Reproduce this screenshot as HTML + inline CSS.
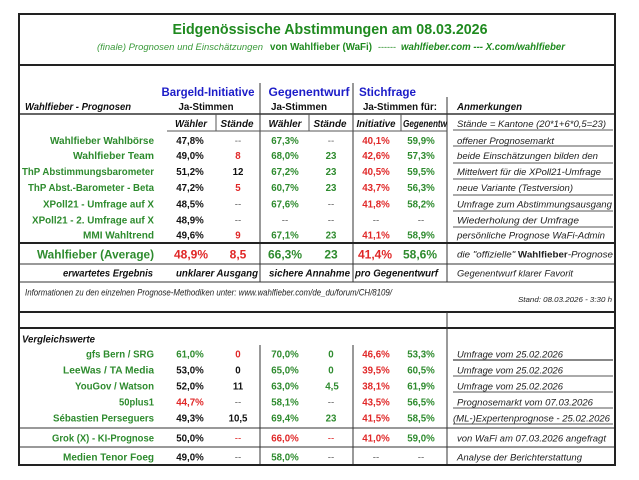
<!DOCTYPE html>
<html><head><meta charset="utf-8">
<style>
html,body{margin:0;padding:0;background:#fff;}
svg{display:block;}
text{font-family:"Liberation Sans",Arial,sans-serif;}
.lb{font-weight:bold;font-size:9.7px;fill:#2e8b2e;text-anchor:end;}
.v{font-weight:bold;font-size:9.7px;text-anchor:middle;}
.k{fill:#111;}
.g{fill:#2e8b2e;}
.r{fill:#e02828;}
.d{fill:#666;font-weight:normal;}
.an{font-style:italic;font-size:9.5px;fill:#222;}
.hb{font-weight:bold;font-style:italic;font-size:9.7px;fill:#111;}
.bl{font-weight:bold;font-size:11.5px;fill:#1c1cc8;}
.ln{stroke:#333;stroke-width:1;}
.lg{stroke:#555;stroke-width:1;}
.tk{stroke:#222;stroke-width:2;}
</style></head>
<body>
<svg width="639" height="480" viewBox="0 0 639 480" xmlns="http://www.w3.org/2000/svg">
<rect x="0" y="0" width="639" height="480" fill="#fff"/>

<!-- Title -->
<text x="330" y="34" text-anchor="middle" font-weight="bold" font-size="14.5" fill="#1f8a1f" textLength="315" lengthAdjust="spacingAndGlyphs">Eidgenössische Abstimmungen am 08.03.2026</text>
<text x="97" y="50" font-size="9.5" font-style="italic" fill="#3a9a3a" textLength="166" lengthAdjust="spacingAndGlyphs">(finale) Prognosen und Einschätzungen</text>
<text x="270" y="50" font-size="9.7" font-weight="bold" fill="#1f8a1f" textLength="102" lengthAdjust="spacingAndGlyphs">von Wahlfieber (WaFi)</text>
<text x="378" y="50" font-size="9.5" fill="#1f8a1f" textLength="18" lengthAdjust="spacingAndGlyphs">------</text>
<text x="401" y="50" font-size="9.7" font-weight="bold" font-style="italic" fill="#1f8a1f" textLength="164" lengthAdjust="spacingAndGlyphs">wahlfieber.com --- X.com/wahlfieber</text>

<!-- Lines -->
<line class="tk" x1="19" y1="65" x2="615" y2="65"/>
<line class="ln" x1="19" y1="114" x2="615" y2="114" style="stroke-width:1.5"/>
<line class="ln" x1="260" y1="83" x2="260" y2="282"/>
<line class="ln" x1="353" y1="83" x2="353" y2="282"/>
<line class="ln" x1="447" y1="97" x2="447" y2="282"/>
<line class="lg" x1="216" y1="114" x2="216" y2="131"/>
<line class="lg" x1="309" y1="114" x2="309" y2="131"/>
<line class="lg" x1="401" y1="114" x2="401" y2="131"/>
<line class="lg" x1="167" y1="131" x2="447" y2="131"/>
<!-- annotation underlines upper -->
<line class="lg" x1="453" y1="130" x2="613" y2="130"/>
<line class="lg" x1="453" y1="146" x2="613" y2="146"/>
<line class="lg" x1="453" y1="163" x2="613" y2="163"/>
<line class="lg" x1="453" y1="179" x2="613" y2="179"/>
<line class="lg" x1="453" y1="195" x2="613" y2="195"/>
<line class="lg" x1="453" y1="211" x2="613" y2="211"/>
<line class="lg" x1="453" y1="227" x2="613" y2="227"/>
<line class="tk" x1="19" y1="243" x2="615" y2="243"/>
<line class="ln" x1="19" y1="264" x2="615" y2="264"/>
<line class="ln" x1="19" y1="282" x2="615" y2="282"/>
<line class="tk" x1="19" y1="312" x2="615" y2="312"/>
<line class="tk" x1="19" y1="328" x2="615" y2="328"/>
<line class="ln" x1="447" y1="312" x2="447" y2="465"/>
<line class="ln" x1="260" y1="345" x2="260" y2="465"/>
<line class="ln" x1="353" y1="345" x2="353" y2="465"/>
<!-- annotation underlines lower -->
<line x1="453" y1="360" x2="613" y2="360" stroke="#888" stroke-width="2"/>
<line class="lg" x1="453" y1="376" x2="613" y2="376"/>
<line class="lg" x1="453" y1="392" x2="613" y2="392"/>
<line class="lg" x1="453" y1="408" x2="613" y2="408"/>
<line class="lg" x1="453" y1="424" x2="613" y2="424"/>
<line class="ln" x1="19" y1="428" x2="615" y2="428"/>
<line class="ln" x1="19" y1="447" x2="615" y2="447"/>
<rect x="19" y="14" width="596" height="451" fill="none" stroke="#222" stroke-width="2"/>

<!-- Header -->
<text class="bl" x="208" y="96" text-anchor="middle" textLength="93" lengthAdjust="spacingAndGlyphs">Bargeld-Initiative</text>
<text class="bl" x="309" y="96" text-anchor="middle" textLength="81" lengthAdjust="spacingAndGlyphs">Gegenentwurf</text>
<text class="bl" x="359" y="96" textLength="57" lengthAdjust="spacingAndGlyphs">Stichfrage</text>
<text x="25" y="110" class="hb" textLength="106" lengthAdjust="spacingAndGlyphs">Wahlfieber - Prognosen</text>
<text x="206" y="110" text-anchor="middle" font-weight="bold" font-size="9.7" fill="#111" textLength="55" lengthAdjust="spacingAndGlyphs">Ja-Stimmen</text>
<text x="299" y="110" text-anchor="middle" font-weight="bold" font-size="9.7" fill="#111" textLength="56" lengthAdjust="spacingAndGlyphs">Ja-Stimmen</text>
<text x="400" y="110" text-anchor="middle" font-weight="bold" font-size="9.7" fill="#111" textLength="74" lengthAdjust="spacingAndGlyphs">Ja-Stimmen für:</text>
<text x="457" y="110" class="hb" textLength="65" lengthAdjust="spacingAndGlyphs">Anmerkungen</text>

<text class="hb" x="191" y="127" text-anchor="middle" textLength="32" lengthAdjust="spacingAndGlyphs">Wähler</text>
<text class="hb" x="237" y="127" text-anchor="middle" textLength="33" lengthAdjust="spacingAndGlyphs">Stände</text>
<text class="hb" x="285" y="127" text-anchor="middle" textLength="33" lengthAdjust="spacingAndGlyphs">Wähler</text>
<text class="hb" x="330" y="127" text-anchor="middle" textLength="33" lengthAdjust="spacingAndGlyphs">Stände</text>
<text class="hb" x="376" y="127" text-anchor="middle" textLength="39" lengthAdjust="spacingAndGlyphs">Initiative</text>
<text class="hb" x="403" y="127" textLength="44" lengthAdjust="spacingAndGlyphs">Gegenentw</text>
<text class="an" x="457" y="127" textLength="149" lengthAdjust="spacingAndGlyphs">Stände = Kantone (20*1+6*0,5=23)</text>

<!-- Upper rows -->
<g>
<text class="lb" x="154" y="144" textLength="104" lengthAdjust="spacingAndGlyphs">Wahlfieber Wahlbörse</text>
<text class="v k" x="190" y="144">47,8%</text><text class="v d" x="238" y="144">--</text>
<text class="v g" x="285" y="144">67,3%</text><text class="v d" x="331" y="144">--</text>
<text class="v r" x="376" y="144">40,1%</text><text class="v g" x="421" y="144">59,9%</text>
<text class="an" x="457" y="144" textLength="97" lengthAdjust="spacingAndGlyphs">offener Prognosemarkt</text>

<text class="lb" x="154" y="159" textLength="81" lengthAdjust="spacingAndGlyphs">Wahlfieber Team</text>
<text class="v k" x="190" y="159">49,0%</text><text class="v r" x="238" y="159">8</text>
<text class="v g" x="285" y="159">68,0%</text><text class="v g" x="331" y="159">23</text>
<text class="v r" x="376" y="159">42,6%</text><text class="v g" x="421" y="159">57,3%</text>
<text class="an" x="457" y="159" textLength="141" lengthAdjust="spacingAndGlyphs">beide Einschätzungen bilden den</text>

<text class="lb" x="154" y="175" textLength="132" lengthAdjust="spacingAndGlyphs">ThP Abstimmungsbarometer</text>
<text class="v k" x="190" y="175">51,2%</text><text class="v k" x="238" y="175">12</text>
<text class="v g" x="285" y="175">67,2%</text><text class="v g" x="331" y="175">23</text>
<text class="v r" x="376" y="175">40,5%</text><text class="v g" x="421" y="175">59,5%</text>
<text class="an" x="457" y="175" textLength="144" lengthAdjust="spacingAndGlyphs">Mittelwert für die XPoll21-Umfrage</text>

<text class="lb" x="154" y="191" textLength="126" lengthAdjust="spacingAndGlyphs">ThP Abst.-Barometer - Beta</text>
<text class="v k" x="190" y="191">47,2%</text><text class="v r" x="238" y="191">5</text>
<text class="v g" x="285" y="191">60,7%</text><text class="v g" x="331" y="191">23</text>
<text class="v r" x="376" y="191">43,7%</text><text class="v g" x="421" y="191">56,3%</text>
<text class="an" x="457" y="191" textLength="116" lengthAdjust="spacingAndGlyphs">neue Variante (Testversion)</text>

<text class="lb" x="154" y="207.5" textLength="111" lengthAdjust="spacingAndGlyphs">XPoll21 - Umfrage auf X</text>
<text class="v k" x="190" y="207.5">48,5%</text><text class="v d" x="238" y="207.5">--</text>
<text class="v g" x="285" y="207.5">67,6%</text><text class="v d" x="331" y="207.5">--</text>
<text class="v r" x="376" y="207.5">41,8%</text><text class="v g" x="421" y="207.5">58,2%</text>
<text class="an" x="457" y="207.5" textLength="155" lengthAdjust="spacingAndGlyphs">Umfrage zum Abstimmungsausgang</text>

<text class="lb" x="154" y="223.5" textLength="122" lengthAdjust="spacingAndGlyphs">XPoll21 - 2. Umfrage auf X</text>
<text class="v k" x="190" y="223.5">48,9%</text><text class="v d" x="238" y="223.5">--</text>
<text class="v d" x="285" y="223.5">--</text><text class="v d" x="331" y="223.5">--</text>
<text class="v d" x="376" y="223.5">--</text><text class="v d" x="421" y="223.5">--</text>
<text class="an" x="457" y="223.5" textLength="122" lengthAdjust="spacingAndGlyphs">Wiederholung der Umfrage</text>

<text class="lb" x="154" y="238.5" textLength="71" lengthAdjust="spacingAndGlyphs">MMI Wahltrend</text>
<text class="v k" x="190" y="238.5">49,6%</text><text class="v r" x="238" y="238.5">9</text>
<text class="v g" x="285" y="238.5">67,1%</text><text class="v g" x="331" y="238.5">23</text>
<text class="v r" x="376" y="238.5">41,1%</text><text class="v g" x="421" y="238.5">58,9%</text>
<text class="an" x="457" y="238.5" textLength="148" lengthAdjust="spacingAndGlyphs">persönliche Prognose WaFi-Admin</text>
</g>

<!-- Average row -->
<text x="154" y="258.5" text-anchor="end" font-weight="bold" font-size="12" fill="#2e8b2e" textLength="117" lengthAdjust="spacingAndGlyphs">Wahlfieber (Average)</text>
<text x="191" y="258.5" text-anchor="middle" font-weight="bold" font-size="12" fill="#e02828">48,9%</text>
<text x="238" y="258.5" text-anchor="middle" font-weight="bold" font-size="12" fill="#e02828">8,5</text>
<text x="285" y="258.5" text-anchor="middle" font-weight="bold" font-size="12" fill="#2e8b2e">66,3%</text>
<text x="331" y="258.5" text-anchor="middle" font-weight="bold" font-size="12" fill="#2e8b2e">23</text>
<text x="375" y="258.5" text-anchor="middle" font-weight="bold" font-size="12" fill="#e02828">41,4%</text>
<text x="420" y="258.5" text-anchor="middle" font-weight="bold" font-size="12" fill="#2e8b2e">58,6%</text>
<text x="457" y="257.5" font-size="9.5" fill="#222" textLength="156" lengthAdjust="spacingAndGlyphs"><tspan font-style="italic">die "offizielle" </tspan><tspan font-weight="bold">Wahlfieber</tspan><tspan font-style="italic">-Prognose</tspan></text>

<!-- Erwartetes Ergebnis row -->
<text class="hb" x="153" y="276.5" text-anchor="end" textLength="90" lengthAdjust="spacingAndGlyphs">erwartetes Ergebnis</text>
<text class="hb" x="258" y="276.5" text-anchor="end" textLength="82" lengthAdjust="spacingAndGlyphs">unklarer Ausgang</text>
<text class="hb" x="350" y="276.5" text-anchor="end" textLength="81" lengthAdjust="spacingAndGlyphs">sichere Annahme</text>
<text class="hb" x="355" y="276.5" textLength="83" lengthAdjust="spacingAndGlyphs">pro Gegenentwurf</text>
<text class="an" x="457" y="276.5" textLength="116" lengthAdjust="spacingAndGlyphs">Gegenentwurf klarer Favorit</text>

<!-- Info -->
<text class="an" x="25" y="295.5" textLength="367" lengthAdjust="spacingAndGlyphs">Informationen zu den einzelnen Prognose-Methodiken unter: www.wahlfieber.com/de_du/forum/CH/8109/</text>
<text x="612" y="302" text-anchor="end" font-style="italic" font-size="7.5" fill="#222" textLength="94" lengthAdjust="spacingAndGlyphs">Stand: 08.03.2026 - 3:30 h</text>

<!-- Vergleichswerte -->
<text class="hb" x="22" y="342.5" textLength="73" lengthAdjust="spacingAndGlyphs">Vergleichswerte</text>

<text class="lb" x="154" y="357.5" textLength="68" lengthAdjust="spacingAndGlyphs">gfs Bern / SRG</text>
<text class="v g" x="190" y="357.5">61,0%</text><text class="v r" x="238" y="357.5">0</text>
<text class="v g" x="285" y="357.5">70,0%</text><text class="v g" x="331" y="357.5">0</text>
<text class="v r" x="376" y="357.5">46,6%</text><text class="v g" x="421" y="357.5">53,3%</text>
<text class="an" x="457" y="357.5" textLength="106" lengthAdjust="spacingAndGlyphs">Umfrage vom 25.02.2026</text>

<text class="lb" x="154" y="373.5" textLength="91" lengthAdjust="spacingAndGlyphs">LeeWas / TA Media</text>
<text class="v k" x="190" y="373.5">53,0%</text><text class="v k" x="238" y="373.5">0</text>
<text class="v g" x="285" y="373.5">65,0%</text><text class="v g" x="331" y="373.5">0</text>
<text class="v r" x="376" y="373.5">39,5%</text><text class="v g" x="421" y="373.5">60,5%</text>
<text class="an" x="457" y="373.5" textLength="106" lengthAdjust="spacingAndGlyphs">Umfrage vom 25.02.2026</text>

<text class="lb" x="154" y="389.5" textLength="79" lengthAdjust="spacingAndGlyphs">YouGov / Watson</text>
<text class="v k" x="190" y="389.5">52,0%</text><text class="v k" x="238" y="389.5">11</text>
<text class="v g" x="285" y="389.5">63,0%</text><text class="v g" x="332" y="389.5">4,5</text>
<text class="v r" x="376" y="389.5">38,1%</text><text class="v g" x="421" y="389.5">61,9%</text>
<text class="an" x="457" y="389.5" textLength="106" lengthAdjust="spacingAndGlyphs">Umfrage vom 25.02.2026</text>

<text class="lb" x="154" y="405.5" textLength="35" lengthAdjust="spacingAndGlyphs">50plus1</text>
<text class="v r" x="190" y="405.5">44,7%</text><text class="v d" x="238" y="405.5">--</text>
<text class="v g" x="285" y="405.5">58,1%</text><text class="v d" x="331" y="405.5">--</text>
<text class="v r" x="376" y="405.5">43,5%</text><text class="v g" x="421" y="405.5">56,5%</text>
<text class="an" x="457" y="405.5" textLength="136" lengthAdjust="spacingAndGlyphs">Prognosemarkt vom 07.03.2026</text>

<text class="lb" x="154" y="421.5" textLength="101" lengthAdjust="spacingAndGlyphs">Sébastien Perseguers</text>
<text class="v k" x="190" y="421.5">49,3%</text><text class="v k" x="238" y="421.5">10,5</text>
<text class="v g" x="285" y="421.5">69,4%</text><text class="v g" x="331" y="421.5">23</text>
<text class="v r" x="376" y="421.5">41,5%</text><text class="v g" x="421" y="421.5">58,5%</text>
<text class="an" x="453" y="421.5" textLength="157" lengthAdjust="spacingAndGlyphs">(ML-)Expertenprognose - 25.02.2026</text>

<text class="lb" x="154" y="441.5" textLength="102" lengthAdjust="spacingAndGlyphs">Grok (X) - KI-Prognose</text>
<text class="v k" x="190" y="441.5">50,0%</text><text class="v d" x="238" y="441.5" style="fill:#e02828">--</text>
<text class="v r" x="285" y="441.5">66,0%</text><text class="v d" x="331" y="441.5" style="fill:#e02828">--</text>
<text class="v r" x="376" y="441.5">41,0%</text><text class="v g" x="421" y="441.5">59,0%</text>
<text class="an" x="457" y="441.5" textLength="149" lengthAdjust="spacingAndGlyphs">von WaFi am 07.03.2026 angefragt</text>

<text class="lb" x="154" y="460.5" textLength="91" lengthAdjust="spacingAndGlyphs">Medien Tenor Foeg</text>
<text class="v k" x="190" y="460.5">49,0%</text><text class="v d" x="238" y="460.5">--</text>
<text class="v g" x="285" y="460.5">58,0%</text><text class="v d" x="331" y="460.5">--</text>
<text class="v d" x="376" y="460.5">--</text><text class="v d" x="421" y="460.5">--</text>
<text class="an" x="457" y="460.5" textLength="125" lengthAdjust="spacingAndGlyphs">Analyse der Berichterstattung</text>
</svg>
</body></html>
